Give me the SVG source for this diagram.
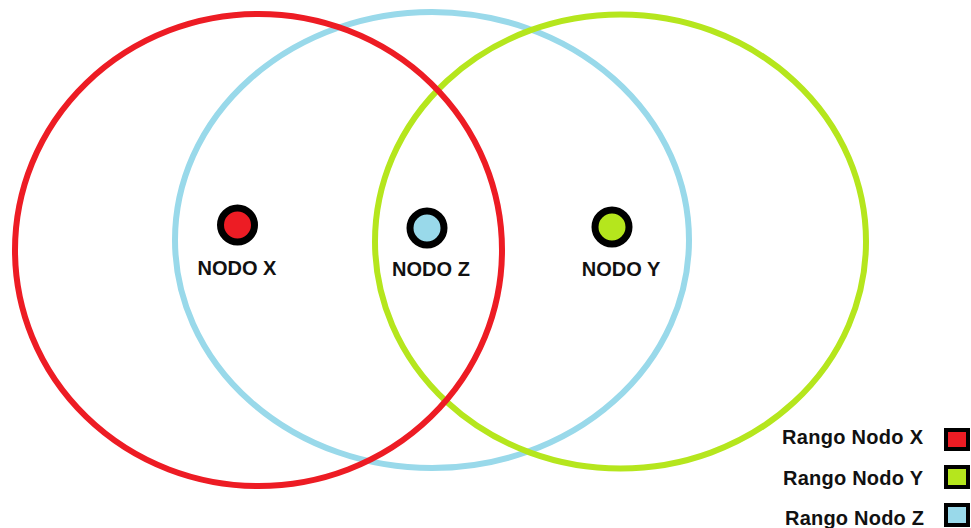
<svg xmlns="http://www.w3.org/2000/svg" width="971" height="528" viewBox="0 0 971 528">
  <style>
    .range { fill: none; stroke-width: 6; }
    .dot { stroke: #000; stroke-width: 7; }
    .label { font-family: "Liberation Sans", Arial, sans-serif; font-weight: bold; font-size: 20px; fill: #111; text-anchor: middle; }
    .legend { font-family: "Liberation Sans", Arial, sans-serif; font-weight: bold; font-size: 20px; fill: #111; }
    .swatch { stroke: #000; stroke-width: 4; }
    .red { fill: #ED1C24; } .green { fill: #B5E61D; } .blue { fill: #99D9EA; }
  </style>
  <rect width="971" height="528" fill="#fff"/>

  <!-- coverage ranges -->
  <g id="ranges">
    <ellipse id="range-z" class="range" cx="432" cy="240" rx="257" ry="228" stroke="#99D9EA"/>
    <ellipse id="range-y" class="range" cx="620.5" cy="241.5" rx="245.5" ry="227" stroke="#B5E61D"/>
    <ellipse id="range-x" class="range" cx="258.5" cy="250" rx="243.5" ry="236" stroke="#ED1C24"/>
  </g>

  <!-- nodes -->
  <g id="node-x">
    <circle class="dot red" cx="237.5" cy="225" r="17"/>
    <text class="label" x="237" y="275">NODO X</text>
  </g>
  <g id="node-z">
    <circle class="dot blue" cx="427" cy="228" r="17"/>
    <text class="label" x="431" y="276">NODO Z</text>
  </g>
  <g id="node-y">
    <circle class="dot green" cx="612" cy="227" r="17"/>
    <text class="label" x="621" y="276">NODO Y</text>
  </g>

  <!-- legend -->
  <g id="legend">
    <text class="legend" x="782" y="444" textLength="141">Rango Nodo X</text>
    <rect class="swatch red" x="946" y="430" width="22" height="19"/>
    <text class="legend" x="783" y="485" textLength="140">Rango Nodo Y</text>
    <rect class="swatch green" x="946" y="467" width="22" height="20"/>
    <text class="legend" x="785" y="525" textLength="139">Rango Nodo Z</text>
    <rect class="swatch blue" x="946" y="505" width="22" height="20"/>
  </g>
</svg>
